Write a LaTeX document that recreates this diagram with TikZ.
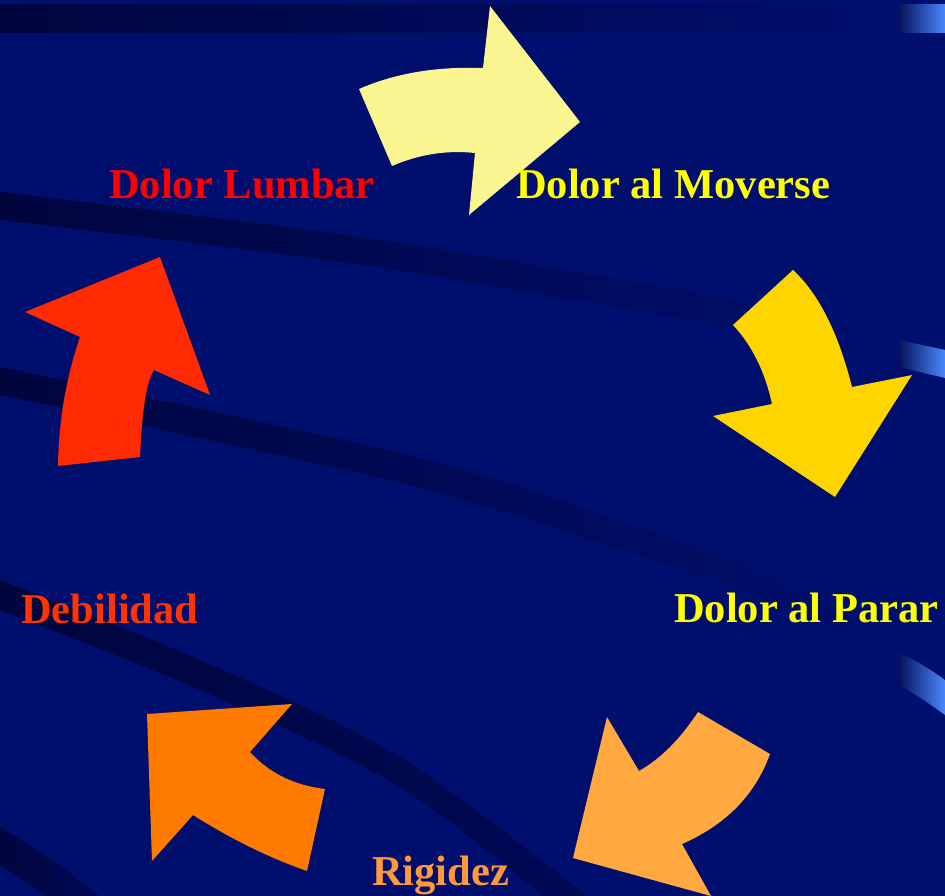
\documentclass[tikz,border=0pt]{standalone}
\usepackage{fontspec}
\setmainfont{Liberation Serif}
\definecolor{bgnavy}{RGB}{0,15,110}
\definecolor{banddark}{RGB}{0,5,62}
\definecolor{bandmid}{RGB}{0,9,86}
\definecolor{ribblue}{RGB}{74,136,255}
\definecolor{ribdark}{RGB}{6,18,90}
\definecolor{arrowA}{RGB}{250,245,145}
\definecolor{arrowB}{RGB}{255,213,0}
\definecolor{arrowC}{RGB}{255,169,64}
\definecolor{arrowD}{RGB}{255,123,0}
\definecolor{arrowE}{RGB}{255,42,0}
\definecolor{txtred}{RGB}{255,0,0}
\definecolor{txtyellow}{RGB}{255,255,0}
\definecolor{txtdeb}{RGB}{255,51,0}
\definecolor{txtrig}{RGB}{255,153,60}
\begin{document}
\begin{tikzpicture}[x=1pt,y=-1pt,
  lbl/.style={anchor=base west,inner sep=0pt,font=\fontsize{42.5}{50}\selectfont\bfseries},
  ribbon/.style={left color=ribdark,right color=ribblue}]
\useasboundingbox (0,0) rectangle (945,896);
\fill[bgnavy] (0,0) rectangle (945,896);
\begin{scope}
\clip (0,0) rectangle (945,896);
% top band
\shade[left color=banddark,right color=bgnavy] (0,5) rectangle (900,33);
\shade[ribbon] (899,5) rectangle (945,33);
% band 1
\shade[left color=banddark,right color=bgnavy]
  plot[smooth] coordinates {(0,192) (361,237) (723,298) (900,339)}
  -- plot[smooth] coordinates {(900,367) (723,326) (361,265) (0,220)} -- cycle;
\shade[ribbon] (899,340) -- (945,350) -- (945,378) -- (899,367) -- cycle;
% band 2
\shade[left color=banddark,right color=bgnavy]
  plot[smooth] coordinates {(0,367) (400,453) (608,517) (748,567) (834,607) (900,653)}
  -- plot[smooth] coordinates {(900,685) (834,637) (748,593) (608,545) (400,483) (0,395)} -- cycle;
\shade[ribbon] (899,653) .. controls (915,660) and (930,669) .. (945,680)
  -- (945,715) .. controls (930,704) and (915,694) .. (899,685) -- cycle;
% band 3
\shade[left color=banddark,right color=bandmid]
  plot[smooth] coordinates {(0,580) (200,660) (400,757) (600,906)}
  -- plot[smooth] coordinates {(555,906) (400,787) (200,690) (0,610)} -- cycle;
% band 4
\shade[left color=banddark,right color=bandmid]
  (0,827) .. controls (35,848) and (70,872) .. (100,896) -- (45,896)
  .. controls (30,885) and (15,874) .. (0,865) -- cycle;
\end{scope}
% arrows
\fill[arrowA] (359,89) .. controls (395,73.3) and (436.3,66.3) .. (483,68) -- (490,6) -- (580,122)
  -- (469,215) -- (475,153) .. controls (446.7,150) and (419,154.3) .. (392,166) -- cycle;
\fill[arrowB] (793,270) -- (733,325) .. controls (752,345.3) and (765,371.7) .. (772,404)
  -- (713,416) -- (835,497) -- (912,375) -- (852,387) .. controls (838.3,332.7) and (818.7,293.7) .. (793,270) -- cycle;
\fill[arrowC] (698,712) -- (770,754) .. controls (755.3,794.7) and (726,824.7) .. (682,844)
  -- (711,896) -- (573,858) -- (607,717) -- (639,771) .. controls (660.7,758.7) and (680.3,739) .. (698,712) -- cycle;
\fill[arrowD] (147,714) -- (292,704) -- (250,752) .. controls (269,773) and (294,785.3) .. (325,789)
  -- (307,871) .. controls (269,857.7) and (231,839) .. (193,815) -- (152,861) -- cycle;
\fill[arrowE] (160,257) -- (210,395) -- (154,370) .. controls (146.7,381) and (142,410) .. (140,457)
  -- (58,466) .. controls (58.7,421) and (66,378) .. (80,337) -- (25,312) -- cycle;
% labels
\node[lbl,text=txtred] (lumbar) at (109,199) {Dolor Lumbar};
\node[lbl,text=txtyellow] (moverse) at (516,199) {Dolor al Moverse};
\node[lbl,text=txtyellow] (parar) at (674,622) {Dolor al Parar};
\node[lbl,text=txtdeb] (debilidad) at (21,623) {Debilidad};
\node[lbl,text=txtrig] (rigidez) at (372,885) {Rigidez};
\end{tikzpicture}
\end{document}
